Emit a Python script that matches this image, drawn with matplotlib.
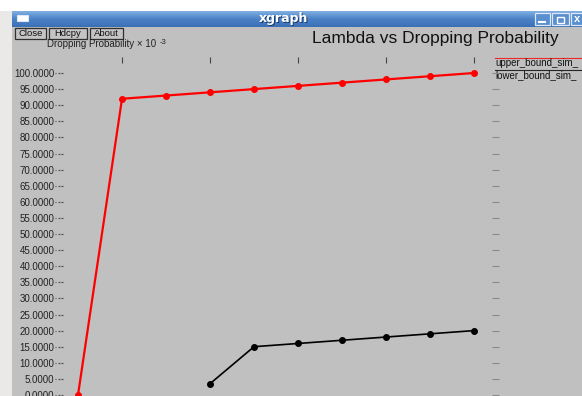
import numpy as np
import matplotlib

matplotlib.use("Agg")
import matplotlib.pyplot as plt
from matplotlib.patches import Rectangle
from matplotlib.path import Path

plt.rcParams["font.family"] = ["Liberation Sans", "DejaVu Sans"]

# lambda (x) and dropping probability (x 10^-3) for the two runs
lam_upper = [1, 2, 3, 4, 5, 6, 7, 8, 9, 10]
drop_upper = [0.0, 92.0, 93.0, 94.0, 95.0, 96.0, 97.0, 98.0, 99.0, 100.0]
lam_lower = [4, 5, 6, 7, 8, 9, 10]
drop_lower = [3.5, 15.0, 16.0, 17.0, 18.0, 19.0, 20.0]
series_names = ["upper_bound_sim_", "lower_bound_sim_"]
series_colors = ["#ff0000", "#000000"]
y_ticks = np.arange(0, 101, 5)
x_ticks = [2, 4, 6, 8, 10]

W, H = 582, 396
fig = plt.figure(figsize=(W / 100, H / 100), dpi=100, facecolor="white")

# window frame drawn in pixel coordinates
bg = fig.add_axes([0, 0, 1, 1], zorder=0)
bg.set_xlim(0, W)
bg.set_ylim(H, 0)
bg.axis("off")
bg.add_patch(Rectangle((0, 11), 12, H, color="#ebe9e7", lw=0))
bg.add_patch(Rectangle((12, 27), W - 12, H, color="#c0c0c0", lw=0))
grad = np.linspace(0, 1, 32)[:, None]
bg.imshow(grad, cmap=matplotlib.colors.LinearSegmentedColormap.from_list(
    "bar", ["#80aee0", "#4a82c6", "#3b70b6"]), extent=(12, W, 27, 11),
    aspect="auto", zorder=1)
bg.add_patch(Rectangle((17, 15), 11, 6, fc="white", ec="#dde6f2", lw=0.8, zorder=2))
for x0, w in [(535, 15), (552, 17), (571, 13)]:
    bg.add_patch(Rectangle((x0, 13), w, 12, fc="#5a8fd0", ec="#dbe7f5", lw=0.9, zorder=2))
bg.plot([539, 545], [21.5, 21.5], color="white", lw=1.5, zorder=3)
bg.add_patch(Rectangle((557, 16.5), 7, 6, fc="none", ec="white", lw=1.0, zorder=3))
bg.text(574, 19, "x", color="white", fontsize=8, fontweight="bold",
        ha="left", va="center", zorder=3)
bg.text(284.5, 19.5, "xgraph", color="#1b3d6b", fontsize=9, fontweight="bold",
        family="DejaVu Sans", ha="center", va="center", zorder=3)
bg.text(283.5, 18.5, "xgraph", color="white", fontsize=9, fontweight="bold",
        family="DejaVu Sans", ha="center", va="center", zorder=3)

for x0, x1, label in [(15, 46, "Close"), (49, 87, "Hdcpy"), (90, 123, "About")]:
    bg.add_patch(Rectangle((x0, 28), x1 - x0, 11, fc="#c4c4c4", ec="#303030",
                           lw=0.9, zorder=2))
    bg.text((x0 + x1) / 2, 33.8, label, fontsize=6.8, color="#111111",
            ha="center", va="center", zorder=3)

bg.text(47, 47, "Dropping Probability \u00d7 10", fontsize=7, color="#222222",
        ha="left", va="baseline")
bg.text(160, 43.5, "-3", fontsize=5.5, color="#222222", ha="left", va="baseline")
bg.text(435, 38.5, "Lambda vs Dropping Probability", fontsize=12.5,
        color="#111111", ha="center", va="center")

# legend: line above each name, as xgraph draws it
for i, (name, col) in enumerate(zip(series_names, series_colors)):
    yl = 57.5 + 12 * i
    bg.plot([495, W], [yl, yl], color=col, lw=0.8, alpha=0.8, zorder=2)
    bg.text(495, yl + 1, name, fontsize=7, color="#111111", ha="left",
            va="top", zorder=3)

# data area
ax = fig.add_axes([62.6 / W, 1 - 411.1 / H, (491.6 - 62.6) / W, (411.1 - 56.9) / H],
                  zorder=1)
ax.patch.set_alpha(0)
for s in ax.spines.values():
    s.set_visible(False)
ax.set_xlim(0.65, 10.4)
ax.set_ylim(-5, 105)

ax.plot(lam_upper, drop_upper, color=series_colors[0], lw=1.6, marker="o",
        markersize=4, clip_on=False)
ax.plot(lam_lower, drop_lower, color=series_colors[1], lw=1.2, marker="o",
        markersize=4, clip_on=False)

ax.set_yticks(y_ticks)
ax.set_yticklabels([f"{v:.4f}" for v in y_ticks])
ax.set_xticks(x_ticks)
ax.tick_params(axis="y", left=True, right=True, direction="out", length=5,
               width=0.6, color="#666666", labelsize=7, labelcolor="#222222",
               pad=1)

# dotted left ticks and short dashes on the right edge
dots = Path([(-1, 0), (-0.8, 0), (-0.6, 0), (-0.4, 0), (-0.2, 0), (0, 0)],
            [Path.MOVETO, Path.LINETO, Path.MOVETO, Path.LINETO,
             Path.MOVETO, Path.LINETO])
for t in ax.yaxis.get_major_ticks():
    t.tick1line.set_marker(dots)
    t.tick1line.set_markersize(12)
    t.tick1line.set_markeredgewidth(0.9)
    t.tick1line.set_markeredgecolor("#555555")
    t.tick2line.set_marker(matplotlib.lines.TICKRIGHT)
    t.tick2line.set_markersize(5)
    t.tick2line.set_markeredgecolor("#8a8a8a")
    t.tick2line.set_markeredgewidth(0.8)
    t.tick2line.set_xdata([1.0])
ax.tick_params(axis="x", top=True, bottom=False, labeltop=False,
               labelbottom=False, direction="in", length=4, width=0.8,
               color="#444444")

fig.savefig("out.png", dpi=100, facecolor="white")
